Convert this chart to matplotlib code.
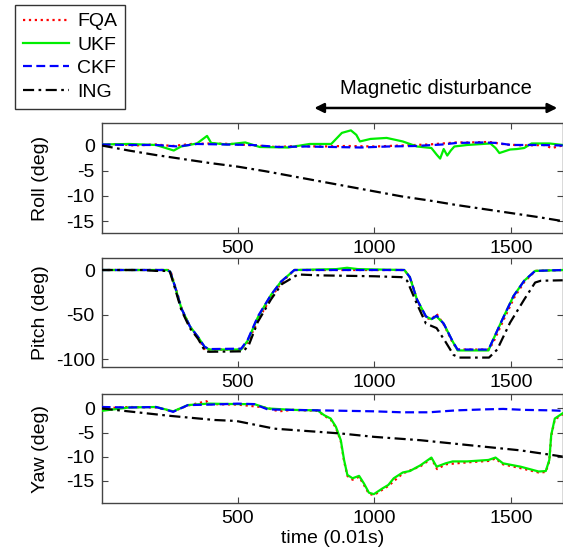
import matplotlib
matplotlib.use("Agg")
import matplotlib.pyplot as plt

plt.rcParams['font.family'] = ['Liberation Sans', 'DejaVu Sans']
plt.rcParams['axes.unicode_minus'] = False

# ---- Roll ----
t_fqa_roll = [1, 60, 120, 200, 260, 330, 400, 480, 560, 640, 720, 800, 900, 1000, 1100, 1200, 1300, 1350, 1420, 1480, 1550, 1620, 1650, 1690]
fqa_roll = [0.1, 0.3, 0.0, 0.2, -0.1, 0.3, 0.4, 0.3, 0.0, -0.3, -0.1, -0.2, -0.1, -0.2, 0.0, 0.2, 0.6, 0.6, 0.7, 0.2, 0.0, 0.1, -0.5, 0.0]
t_ukf_roll = [1, 100, 200, 265, 292, 350, 387, 402, 460, 527, 580, 685, 763, 842, 881, 914, 934, 947, 986, 1045, 1104, 1156, 1209, 1228, 1241, 1254, 1267, 1280, 1293, 1340, 1425, 1444, 1458, 1497, 1523, 1549, 1576, 1641, 1690]
ukf_roll = [0.2, 0.3, 0.1, -1.0, -0.2, 0.4, 1.9, 0.5, 0.2, 0.6, -0.3, -0.4, 0.3, 0.3, 2.5, 3.0, 2.1, 0.8, 1.3, 1.5, 0.8, -0.2, -0.5, -1.8, -2.6, -0.7, -2.0, -1.0, -0.2, 0.1, 0.4, -0.5, -1.5, -0.8, -0.7, -0.5, 0.4, 0.4, 0.1]
t_ckf_roll = [1, 100, 200, 280, 350, 450, 550, 650, 750, 850, 950, 1050, 1150, 1250, 1300, 1400, 1450, 1500, 1600, 1690]
ckf_roll = [0.2, 0.1, 0.1, -0.2, 0.3, 0.2, 0.1, -0.3, -0.2, -0.3, -0.4, -0.2, -0.1, 0.2, 0.5, 0.6, 0.5, 0.1, 0.1, 0.0]
t_ing_roll = [1, 100, 200, 300, 400, 500, 600, 700, 800, 900, 1000, 1100, 1200, 1300, 1400, 1500, 1600, 1690]
ing_roll = [0.0, -1.0, -1.9, -2.7, -3.5, -4.2, -5.1, -6.1, -7.1, -8.1, -9.1, -10.1, -10.9, -11.8, -12.6, -13.4, -14.2, -15.0]

# ---- Pitch ----
t_ckf_pitch = [1, 240, 252, 269, 293, 324, 354, 378, 395, 512, 536, 573, 621, 658, 707, 900, 1110, 1130, 1156, 1189, 1209, 1228, 1254, 1287, 1305, 1418, 1432, 1471, 1510, 1549, 1589, 1690]
ckf_pitch = [0, 0, -2, -18, -43, -63, -75, -86, -88.5, -88, -78, -52, -28, -13, 0, 0, 0, -8, -33, -52, -55, -51, -60, -80, -89, -89, -80, -54, -29, -12, -1, 0]
t_ukf_pitch = [1, 240, 252, 269, 293, 324, 354, 378, 395, 512, 536, 573, 621, 658, 707, 860, 900, 940, 1110, 1130, 1156, 1189, 1209, 1228, 1254, 1287, 1305, 1418, 1432, 1471, 1510, 1549, 1589, 1690]
ukf_pitch = [0, 0, -2, -18, -43, -63, -75, -86, -89, -89, -79, -53, -28, -13, 0, 1, 2.5, 1, 0, -8, -33, -52, -55, -52, -60, -80, -90, -90, -80, -54, -29, -12, -1, 0]
t_fqa_pitch = [1, 245, 255, 272, 296, 326, 357, 380, 395, 512, 538, 575, 623, 660, 707, 900, 1110, 1132, 1158, 1190, 1210, 1228, 1256, 1288, 1305, 1418, 1434, 1473, 1512, 1550, 1590, 1690]
fqa_pitch = [0, 0, -3, -20, -45, -64, -77, -90, -89, -89, -80, -55, -30, -14, 0, 0, 0, -9, -35, -54, -55, -49, -62, -82, -89, -89, -82, -56, -31, -13, -1, 0]
t_ing_pitch = [1, 150, 200, 250, 269, 293, 324, 354, 380, 395, 520, 540, 573, 621, 660, 720, 800, 1000, 1100, 1120, 1156, 1189, 1228, 1260, 1290, 1310, 1420, 1450, 1497, 1549, 1589, 1610, 1690]
ing_pitch = [0, 0, -1, -1, -20, -45, -65, -77, -91, -91.5, -91, -84, -58, -33, -16, -5, -6, -7, -8, -12, -38, -60, -65, -80, -95, -98, -98, -89, -59, -33, -14, -12, -11.5]

# ---- Yaw ----
t_ckf_yaw = [1, 100, 200, 263, 317, 400, 500, 560, 609, 700, 800, 900, 1000, 1100, 1200, 1300, 1400, 1472, 1550, 1650, 1690]
ckf_yaw = [0.3, 0.2, 0.3, -0.7, 0.7, 0.8, 1.0, 0.9, -0.2, -0.3, -0.4, -0.5, -0.6, -0.8, -0.8, -0.4, -0.2, -0.1, -0.3, -0.4, -0.5]
t_ukf_yaw = [1, 100, 200, 263, 317, 390, 500, 560, 609, 700, 792, 816, 840, 859, 877, 889, 901, 920, 944, 962, 980, 998, 1030, 1051, 1071, 1104, 1130, 1169, 1209, 1228, 1261, 1287, 1340, 1418, 1444, 1471, 1536, 1602, 1628, 1641, 1648, 1661, 1690]
ukf_yaw = [-0.5, 0.2, 0.3, -0.6, 0.7, 1.0, 0.9, 0.9, 0.0, -0.3, -0.4, -1.4, -2.1, -3.8, -6.6, -10.7, -13.8, -14.5, -14.0, -15.6, -17.5, -17.8, -16.6, -15.9, -14.5, -13.3, -13.0, -11.8, -10.2, -12.1, -11.4, -11.0, -11.0, -10.7, -10.2, -11.4, -12.1, -13.1, -13.0, -10.7, -5.5, -2.1, -1.0]
t_fqa_yaw = [1, 100, 200, 263, 317, 385, 395, 500, 600, 650, 700, 792, 816, 840, 859, 877, 889, 901, 920, 944, 962, 980, 998, 1051, 1104, 1169, 1209, 1230, 1261, 1340, 1418, 1444, 1471, 1536, 1602, 1628, 1641, 1648, 1661, 1690]
fqa_yaw = [0.0, 0.3, 0.2, -0.6, 0.6, 1.5, 0.9, 0.8, 0.2, -0.6, -0.3, -0.5, -1.5, -2.3, -4.0, -6.8, -10.9, -14.0, -14.8, -14.2, -15.9, -17.7, -18.0, -16.1, -13.5, -12.0, -10.4, -12.6, -11.6, -11.2, -10.9, -10.4, -11.6, -12.4, -13.3, -13.2, -10.9, -5.7, -2.3, -1.2]
t_ing_yaw = [1, 244, 415, 494, 634, 877, 999, 1169, 1412, 1534, 1655, 1690]
ing_yaw = [0.0, -1.5, -2.4, -2.6, -4.2, -5.2, -5.9, -6.6, -8.0, -8.7, -9.7, -10.0]

fig = plt.figure(figsize=(5.63, 5.52), dpi=100)

W = 563.0
H = 552.0
left = 101.7 / W
width = 461.0 / W
ax_roll = fig.add_axes([left, 1 - 232.7 / H, width, 109.4 / H])
ax_pitch = fig.add_axes([left, 1 - 366.7 / H, width, 108.4 / H])
ax_yaw = fig.add_axes([left, 1 - 503.3 / H, width, 109.3 / H])

lw = 1.6

def draw(ax, tf, f, tu, u, tc, c, ti, i):
    ax.plot(tf, f, color='red', linestyle=':', lw=lw, zorder=2, label='FQA')
    ax.plot(tu, u, color='#00ee00', linestyle='-', lw=lw, zorder=3, label='UKF')
    ax.plot(tc, c, color='blue', linestyle=(0, (4, 2)), lw=lw, zorder=4, label='CKF')
    ax.plot(ti, i, color='black', linestyle=(0, (5, 2, 1.2, 2)), lw=lw, zorder=5, label='ING')
    ax.set_xlim(1, 1690)
    ax.set_xticks([500, 1000, 1500])
    ax.tick_params(direction='in', top=True, right=True, labelsize=14, length=4, pad=5, color='#444444')
    for s in ax.spines.values():
        s.set_color('#444444')
        s.set_linewidth(1.0)

draw(ax_roll, t_fqa_roll, fqa_roll, t_ukf_roll, ukf_roll, t_ckf_roll, ckf_roll, t_ing_roll, ing_roll)
draw(ax_pitch, t_fqa_pitch, fqa_pitch, t_ukf_pitch, ukf_pitch, t_ckf_pitch, ckf_pitch, t_ing_pitch, ing_pitch)
draw(ax_yaw, t_fqa_yaw, fqa_yaw, t_ukf_yaw, ukf_yaw, t_ckf_yaw, ckf_yaw, t_ing_yaw, ing_yaw)

ax_roll.set_ylim(-17.3, 4.4)
ax_roll.set_yticks([0, -5, -10, -15])
ax_pitch.set_ylim(-108.2, 13.1)
ax_pitch.set_yticks([0, -50, -100])
ax_yaw.set_ylim(-19.7, 3.0)
ax_yaw.set_yticks([0, -5, -10, -15])

ax_roll.set_ylabel('Roll (deg)', fontsize=14)
ax_pitch.set_ylabel('Pitch (deg)', fontsize=14)
ax_yaw.set_ylabel('Yaw (deg)', fontsize=14)
ax_yaw.set_xlabel('time (0.01s)', fontsize=14, labelpad=2)
for ax in (ax_roll, ax_pitch, ax_yaw):
    ax.yaxis.set_label_coords(-0.115, 0.5)

# magnetic disturbance arrow
trans = ax_roll.get_xaxis_transform()
ax_roll.annotate('', xy=(1670, 1.14), xytext=(780, 1.14), xycoords=trans, textcoords=trans,
                 arrowprops=dict(arrowstyle='<|-|>', color='black', lw=1.8, mutation_scale=14,
                                 shrinkA=0, shrinkB=0), annotation_clip=False)
ax_roll.text(1224, 1.32, 'Magnetic disturbance', transform=trans, ha='center', va='center', fontsize=14.5)

h, l = ax_roll.get_legend_handles_labels()
leg = fig.legend(h, l, loc='upper left',
                 bbox_to_anchor=(15 / W, 1 - 5 / H), fontsize=14, handlelength=2.4,
                 handletextpad=0.4, labelspacing=0.3, borderpad=0.4, fancybox=False,
                 framealpha=1, edgecolor='#333333', borderaxespad=0)
leg.get_frame().set_linewidth(1.0)

fig.savefig('out.png', dpi=100)
